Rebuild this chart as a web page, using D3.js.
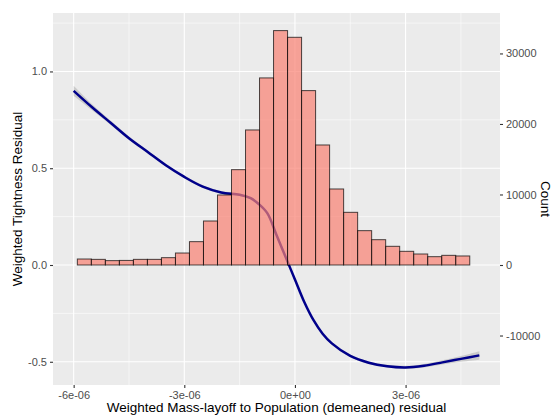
<!DOCTYPE html>
<html>
<head>
<meta charset="utf-8">
<title>Tightness residual vs mass-layoff residual</title>
<script src="https://cdn.jsdelivr.net/npm/d3@7"></script>
<style>
    body { margin: 0; background: #fff; }
    svg { display: block; font-family: "Liberation Sans", Arial, Helvetica, sans-serif; }
</style>
</head>
<body>
<svg id="chart" width="552" height="416"></svg>
<script>
// histogram bins (x in 1e-6 units) and counts
const binEdges = [-5.90, -5.52, -5.14, -4.76, -4.38, -4.00, -3.62, -3.24, -2.86, -2.48,
    -2.10, -1.72, -1.34, -0.96, -0.58, -0.20, 0.18, 0.56, 0.94, 1.32,
    1.70, 2.08, 2.46, 2.84, 3.22, 3.60, 3.98, 4.36, 4.74];
const binCounts = [850, 800, 620, 650, 800, 800, 1040, 1700, 3310, 6240,
    9930, 13520, 19150, 26530, 33240, 32290, 24730, 17020, 10780, 7470,
    4870, 3590, 2650, 1940, 1560, 1180, 1370, 1280];

// smoothed fit (x in 1e-6 units), fitted value and half width of band
const fitX = [-6.0, -5.5, -5.0, -4.5, -4.0, -3.5, -3.0, -2.5, -2.0, -1.5,
    -1.2, -1.0, -0.75, -0.5, -0.25, 0.0, 0.25, 0.5, 0.75, 1.0,
    1.5, 2.0, 2.5, 3.0, 3.5, 4.0, 4.5, 5.0];
const fitY = [0.90, 0.815, 0.735, 0.655, 0.585, 0.515, 0.455, 0.405, 0.375, 0.363,
    0.345, 0.318, 0.268, 0.155, 0.04, -0.075, -0.19, -0.284, -0.355, -0.405,
    -0.47, -0.505, -0.523, -0.529, -0.52, -0.503, -0.485, -0.467];
const fitSe = [0.026, 0.016, 0.011, 0.009, 0.008, 0.007, 0.007, 0.007, 0.007, 0.007,
    0.007, 0.007, 0.007, 0.007, 0.007, 0.007, 0.007, 0.007, 0.007, 0.007,
    0.007, 0.007, 0.007, 0.008, 0.009, 0.011, 0.015, 0.022];

// axis ticks
const xTicks = [-6, -3, 0, 3];
const xTickLabels = ["-6e-06", "-3e-06", "0e+00", "3e-06"];
const xMinor = [-4.5, -1.5, 1.5, 4.5];
const yTicks = [-0.5, 0.0, 0.5, 1.0];
const yTickLabels = ["-0.5", "0.0", "0.5", "1.0"];
const yMinor = [-0.25, 0.25, 0.75, 1.25];
const countTicks = [-10000, 0, 10000, 20000, 30000];
const countTickLabels = ["-10000", "0", "10000", "20000", "30000"];

const svg = d3.select("#chart");
const panel = { left: 53, right: 500, top: 13, bottom: 385 };

const x = d3.scaleLinear().domain([-6.56, 5.56]).range([panel.left, panel.right]);
const y = d3.scaleLinear().domain([-0.62, 1.302]).range([panel.bottom, panel.top]);
const yCount = d3.scaleLinear().domain([-0.62 * 27447, 1.302 * 27447]).range([panel.bottom, panel.top]);

// panel background
svg.append("rect")
    .attr("x", panel.left).attr("y", panel.top)
    .attr("width", panel.right - panel.left).attr("height", panel.bottom - panel.top)
    .attr("fill", "#EBEBEB");

//grid
const grid = svg.append("g");
xMinor.forEach((v) => {
    grid.append("line").attr("x1", x(v)).attr("x2", x(v))
        .attr("y1", panel.top).attr("y2", panel.bottom)
        .attr("stroke", "#fff").attr("stroke-width", 0.55);
});
yMinor.forEach((v) => {
    grid.append("line").attr("y1", y(v)).attr("y2", y(v))
        .attr("x1", panel.left).attr("x2", panel.right)
        .attr("stroke", "#fff").attr("stroke-width", 0.55);
});
xTicks.forEach((v) => {
    grid.append("line").attr("x1", x(v)).attr("x2", x(v))
        .attr("y1", panel.top).attr("y2", panel.bottom)
        .attr("stroke", "#fff").attr("stroke-width", 1.1);
});
yTicks.forEach((v) => {
    grid.append("line").attr("y1", y(v)).attr("y2", y(v))
        .attr("x1", panel.left).attr("x2", panel.right)
        .attr("stroke", "#fff").attr("stroke-width", 1.1);
});

//smooth + ribbon
const fit = fitX.map((v, i) => ({ x: v, y: fitY[i], se: fitSe[i] }));
const band = d3.area()
    .x((d) => x(d.x))
    .y0((d) => y(d.y - d.se))
    .y1((d) => y(d.y + d.se))
    .curve(d3.curveCatmullRom);
svg.append("path").datum(fit)
    .attr("d", band)
    .attr("fill", "#999999").attr("fill-opacity", 0.4);

const line = d3.line()
    .x((d) => x(d.x))
    .y((d) => y(d.y))
    .curve(d3.curveCatmullRom);
svg.append("path").datum(fit)
    .attr("d", line)
    .attr("fill", "none")
    .attr("stroke", "#00008B")
    .attr("stroke-width", 2.5);

//histogram
svg.append("g").selectAll("rect")
    .data(binCounts)
    .enter().append("rect")
    .attr("x", (d, i) => x(binEdges[i]))
    .attr("width", (d, i) => x(binEdges[i + 1]) - x(binEdges[i]))
    .attr("y", (d) => yCount(d))
    .attr("height", (d) => yCount(0) - yCount(d))
    .attr("fill", "#FA8072").attr("fill-opacity", 0.7)
    .attr("stroke", "#000").attr("stroke-opacity", 0.7)
    .attr("stroke-width", 1);

//axes
function styleAxis(g) {
    g.select(".domain").remove();
    g.selectAll(".tick line").attr("stroke", "#333333").attr("stroke-width", 1.1);
    g.selectAll(".tick text").attr("fill", "#4D4D4D").attr("font-size", "11px")
        .attr("font-family", "\"Liberation Sans\", Arial, sans-serif");
}

svg.append("g")
    .attr("transform", `translate(0,${panel.bottom})`)
    .call(d3.axisBottom(x).tickValues(xTicks).tickSize(3).tickPadding(3)
        .tickFormat((d, i) => xTickLabels[i]))
    .call(styleAxis);

svg.append("g")
    .attr("transform", `translate(${panel.left},0)`)
    .call(d3.axisLeft(y).tickValues(yTicks).tickSize(3).tickPadding(3)
        .tickFormat((d, i) => yTickLabels[i]))
    .call(styleAxis);

svg.append("g")
    .attr("transform", `translate(${panel.right},0)`)
    .call(d3.axisRight(yCount).tickValues(countTicks).tickSize(3).tickPadding(3)
        .tickFormat((d, i) => countTickLabels[i]))
    .call(styleAxis);

//titles
svg.append("text")
    .attr("x", (panel.left + panel.right) / 2).attr("y", 412)
    .attr("text-anchor", "middle").attr("font-size", "13.5px").attr("fill", "#000")
    .text("Weighted Mass-layoff to Population (demeaned) residual");

svg.append("text")
    .attr("transform", `translate(22,${(panel.top + panel.bottom) / 2}) rotate(-90)`)
    .attr("text-anchor", "middle").attr("font-size", "13.5px").attr("fill", "#000")
    .text("Weighted Tightness Residual");

svg.append("text")
    .attr("transform", `translate(541,${(panel.top + panel.bottom) / 2}) rotate(90)`)
    .attr("text-anchor", "middle").attr("font-size", "13.5px").attr("fill", "#000")
    .text("Count");
</script>
</body>
</html>
